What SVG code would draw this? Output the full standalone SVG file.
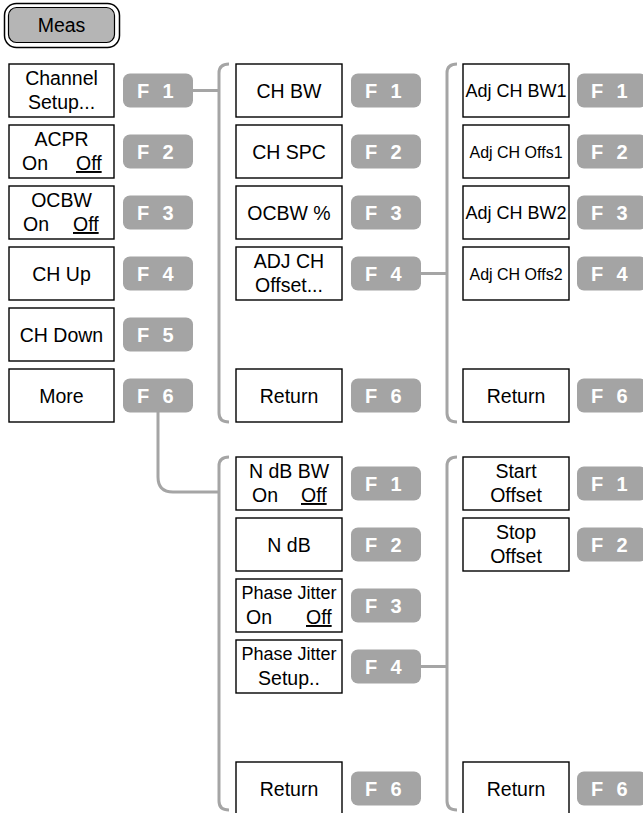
<svg xmlns="http://www.w3.org/2000/svg" width="643" height="813" viewBox="0 0 643 813">
<style>
.bx{fill:#fff;stroke:#000;stroke-width:1.4}
.fk{fill:#a4a4a4}
.t{font-family:"Liberation Sans",Arial,sans-serif;font-size:19.5px;fill:#000;text-anchor:middle}
.ts{font-family:"Liberation Sans",Arial,sans-serif;font-size:19.5px;fill:#000}
.ft{font-family:"Liberation Sans",Arial,sans-serif;font-size:20px;font-weight:bold;fill:#fff;text-anchor:middle}
.u{text-decoration:underline}
.br{fill:none;stroke:#a5a5a5;stroke-width:3}
</style>
<rect width="643" height="813" fill="#fff"/>
<g id="meas">
<rect x="4.5" y="3.5" width="115" height="44" rx="12" fill="#fff" stroke="#000" stroke-width="1.5"/>
<rect x="8.5" y="7.5" width="106" height="35" rx="8" fill="#b5b5b5" stroke="#000" stroke-width="1.2"/>
<text class="t" x="61.5" y="32">Meas</text>
</g>
<g id="connectors">
<path class="br" d="M193,90.5 H219"/>
<path class="br" d="M229,64 Q219,64 219,73 V413 Q219,422 229,422"/>
<path class="br" d="M420,273.5 H447"/>
<path class="br" d="M457,64 Q447,64 447,73 V413 Q447,422 457,422"/>
<path class="br" d="M158,412 V477 Q158,492 173,492 H219"/>
<path class="br" d="M229,457 Q219,457 219,466 V801 Q219,810 229,810"/>
<path class="br" d="M420,666.5 H447"/>
<path class="br" d="M457,457 Q447,457 447,466 V801 Q447,810 457,810"/>
</g>
<!-- column 1 -->
<g id="c1r1"><rect class="bx" x="9" y="64" width="105" height="53"/><text class="t" x="61.5" y="85">Channel</text><text class="t" x="61.5" y="109">Setup...</text></g>
<g id="c1r2"><rect class="bx" x="9" y="125" width="105" height="53"/><text class="t" x="61.5" y="146">ACPR</text><text class="ts" x="22" y="170">On</text><text class="ts u" x="76" y="170">Off</text></g>
<g id="c1r3"><rect class="bx" x="9" y="186" width="105" height="53"/><text class="t" x="61.5" y="207">OCBW</text><text class="ts" x="23" y="231">On</text><text class="ts u" x="73" y="231">Off</text></g>
<g id="c1r4"><rect class="bx" x="9" y="247" width="105" height="53"/><text class="t" x="61.5" y="280.5">CH Up</text></g>
<g id="c1r5"><rect class="bx" x="9" y="308" width="105" height="53"/><text class="t" x="61.5" y="341.5">CH Down</text></g>
<g id="c1r6"><rect class="bx" x="9" y="369" width="105" height="53"/><text class="t" x="61.5" y="402.5">More</text></g>
<g id="c1f1"><rect class="fk" x="123" y="73.5" width="70" height="34" rx="7"/><text class="ft" x="143" y="98">F</text><text class="ft" x="168" y="98">1</text></g>
<g id="c1f2"><rect class="fk" x="123" y="134.5" width="70" height="34" rx="7"/><text class="ft" x="143" y="159">F</text><text class="ft" x="168" y="159">2</text></g>
<g id="c1f3"><rect class="fk" x="123" y="195.5" width="70" height="34" rx="7"/><text class="ft" x="143" y="220">F</text><text class="ft" x="168" y="220">3</text></g>
<g id="c1f4"><rect class="fk" x="123" y="256.5" width="70" height="34" rx="7"/><text class="ft" x="143" y="281">F</text><text class="ft" x="168" y="281">4</text></g>
<g id="c1f5"><rect class="fk" x="123" y="317.5" width="70" height="34" rx="7"/><text class="ft" x="143" y="342">F</text><text class="ft" x="168" y="342">5</text></g>
<g id="c1f6"><rect class="fk" x="123" y="378.5" width="70" height="34" rx="7"/><text class="ft" x="143" y="403">F</text><text class="ft" x="168" y="403">6</text></g>
<!-- column 2 upper -->
<g id="c2r1"><rect class="bx" x="236" y="64" width="106" height="53"/><text class="t" x="289" y="97.5">CH BW</text></g>
<g id="c2r2"><rect class="bx" x="236" y="125" width="106" height="53"/><text class="t" x="289" y="158.5">CH SPC</text></g>
<g id="c2r3"><rect class="bx" x="236" y="186" width="106" height="53"/><text class="t" x="289" y="219.5">OCBW %</text></g>
<g id="c2r4"><rect class="bx" x="236" y="247" width="106" height="53"/><text class="t" x="289" y="268">ADJ CH</text><text class="t" x="289" y="292">Offset...</text></g>
<g id="c2r6"><rect class="bx" x="236" y="369" width="106" height="53"/><text class="t" x="289" y="402.5">Return</text></g>
<g id="c2f1"><rect class="fk" x="351" y="73.5" width="70" height="34" rx="7"/><text class="ft" x="371" y="98">F</text><text class="ft" x="396" y="98">1</text></g>
<g id="c2f2"><rect class="fk" x="351" y="134.5" width="70" height="34" rx="7"/><text class="ft" x="371" y="159">F</text><text class="ft" x="396" y="159">2</text></g>
<g id="c2f3"><rect class="fk" x="351" y="195.5" width="70" height="34" rx="7"/><text class="ft" x="371" y="220">F</text><text class="ft" x="396" y="220">3</text></g>
<g id="c2f4"><rect class="fk" x="351" y="256.5" width="70" height="34" rx="7"/><text class="ft" x="371" y="281">F</text><text class="ft" x="396" y="281">4</text></g>
<g id="c2f6"><rect class="fk" x="351" y="378.5" width="70" height="34" rx="7"/><text class="ft" x="371" y="403">F</text><text class="ft" x="396" y="403">6</text></g>
<!-- column 3 upper -->
<g id="c3r1"><rect class="bx" x="463" y="64" width="106" height="53"/><text class="t" x="516" y="97" style="font-size:18px">Adj CH BW1</text></g>
<g id="c3r2"><rect class="bx" x="463" y="125" width="106" height="53"/><text class="t" x="516" y="157.5" style="font-size:16px">Adj CH Offs1</text></g>
<g id="c3r3"><rect class="bx" x="463" y="186" width="106" height="53"/><text class="t" x="516" y="219" style="font-size:18px">Adj CH BW2</text></g>
<g id="c3r4"><rect class="bx" x="463" y="247" width="106" height="53"/><text class="t" x="516" y="279.5" style="font-size:16px">Adj CH Offs2</text></g>
<g id="c3r6"><rect class="bx" x="463" y="369" width="106" height="53"/><text class="t" x="516" y="402.5">Return</text></g>
<g id="c3f1"><rect class="fk" x="577" y="73.5" width="70" height="34" rx="7"/><text class="ft" x="597" y="98">F</text><text class="ft" x="622" y="98">1</text></g>
<g id="c3f2"><rect class="fk" x="577" y="134.5" width="70" height="34" rx="7"/><text class="ft" x="597" y="159">F</text><text class="ft" x="622" y="159">2</text></g>
<g id="c3f3"><rect class="fk" x="577" y="195.5" width="70" height="34" rx="7"/><text class="ft" x="597" y="220">F</text><text class="ft" x="622" y="220">3</text></g>
<g id="c3f4"><rect class="fk" x="577" y="256.5" width="70" height="34" rx="7"/><text class="ft" x="597" y="281">F</text><text class="ft" x="622" y="281">4</text></g>
<g id="c3f6"><rect class="fk" x="577" y="378.5" width="70" height="34" rx="7"/><text class="ft" x="597" y="403">F</text><text class="ft" x="622" y="403">6</text></g>
<!-- column 2 lower -->
<g id="l2r1"><rect class="bx" x="236" y="457" width="106" height="53"/><text class="t" x="289" y="478">N dB BW</text><text class="ts" x="252" y="502">On</text><text class="ts u" x="301" y="502">Off</text></g>
<g id="l2r2"><rect class="bx" x="236" y="518" width="106" height="53"/><text class="t" x="289" y="551.5">N dB</text></g>
<g id="l2r3"><rect class="bx" x="236" y="579" width="106" height="53"/><text class="t" x="289" y="599" style="font-size:18px">Phase Jitter</text><text class="ts" x="246" y="624">On</text><text class="ts u" x="306" y="624">Off</text></g>
<g id="l2r4"><rect class="bx" x="236" y="640" width="106" height="53"/><text class="t" x="289" y="660" style="font-size:18px">Phase Jitter</text><text class="t" x="289" y="685">Setup..</text></g>
<g id="l2r6"><rect class="bx" x="236" y="762" width="106" height="53"/><text class="t" x="289" y="795.5">Return</text></g>
<g id="l2f1"><rect class="fk" x="351" y="466.5" width="70" height="34" rx="7"/><text class="ft" x="371" y="491">F</text><text class="ft" x="396" y="491">1</text></g>
<g id="l2f2"><rect class="fk" x="351" y="527.5" width="70" height="34" rx="7"/><text class="ft" x="371" y="552">F</text><text class="ft" x="396" y="552">2</text></g>
<g id="l2f3"><rect class="fk" x="351" y="588.5" width="70" height="34" rx="7"/><text class="ft" x="371" y="613">F</text><text class="ft" x="396" y="613">3</text></g>
<g id="l2f4"><rect class="fk" x="351" y="649.5" width="70" height="34" rx="7"/><text class="ft" x="371" y="674">F</text><text class="ft" x="396" y="674">4</text></g>
<g id="l2f6"><rect class="fk" x="351" y="771.5" width="70" height="34" rx="7"/><text class="ft" x="371" y="796">F</text><text class="ft" x="396" y="796">6</text></g>
<!-- column 3 lower -->
<g id="l3r1"><rect class="bx" x="463" y="457" width="106" height="53"/><text class="t" x="516" y="478">Start</text><text class="t" x="516" y="502">Offset</text></g>
<g id="l3r2"><rect class="bx" x="463" y="518" width="106" height="53"/><text class="t" x="516" y="539">Stop</text><text class="t" x="516" y="563">Offset</text></g>
<g id="l3r6"><rect class="bx" x="463" y="762" width="106" height="53"/><text class="t" x="516" y="795.5">Return</text></g>
<g id="l3f1"><rect class="fk" x="577" y="466.5" width="70" height="34" rx="7"/><text class="ft" x="597" y="491">F</text><text class="ft" x="622" y="491">1</text></g>
<g id="l3f2"><rect class="fk" x="577" y="527.5" width="70" height="34" rx="7"/><text class="ft" x="597" y="552">F</text><text class="ft" x="622" y="552">2</text></g>
<g id="l3f6"><rect class="fk" x="577" y="771.5" width="70" height="34" rx="7"/><text class="ft" x="597" y="796">F</text><text class="ft" x="622" y="796">6</text></g>
</svg>
